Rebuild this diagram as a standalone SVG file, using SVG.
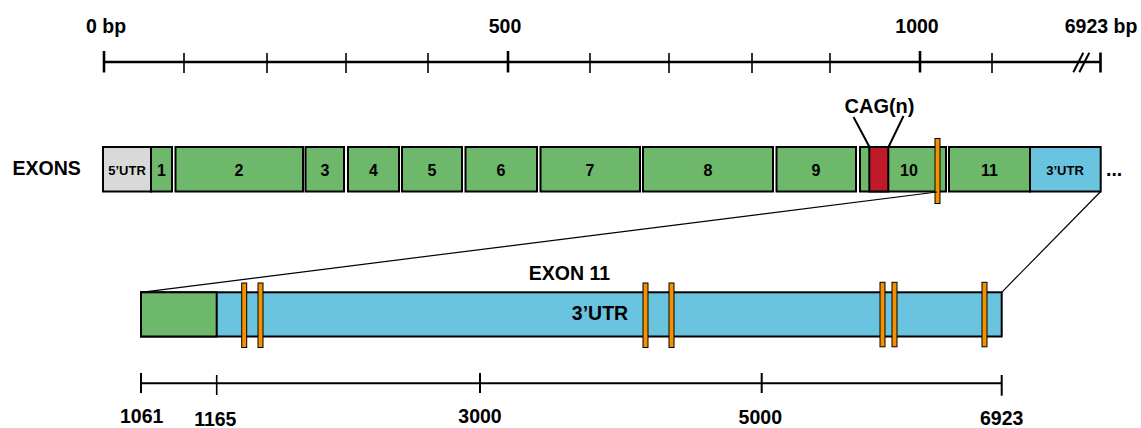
<svg xmlns="http://www.w3.org/2000/svg" width="1141" height="428" viewBox="0 0 1141 428">
<style>
text{font-family:"Liberation Sans",Arial,sans-serif;font-weight:bold;fill:#000}
.big{font-size:19.5px}
.num{font-size:16px;text-anchor:middle}
.utr{font-size:13px;text-anchor:middle}
.mid{text-anchor:middle}
.ex{stroke:#000;stroke-width:2}
.g{fill:#6db86b}
.b{fill:#6ac4e0}
.gray{fill:#d9d9d9}
.red{fill:#be1a28}
.or{fill:#f39200;stroke:#000;stroke-width:1}
.maj{stroke:#000;stroke-width:2.6}
.min{stroke:#000;stroke-width:1.6}
.conn{stroke:#000;stroke-width:1.2;fill:none}
</style>
<rect width="1141" height="428" fill="#fff"/>
<g id="top-ruler">
<line x1="104" y1="62" x2="1101" y2="62" stroke="#000" stroke-width="2.6"/>
<line class="maj" x1="104" y1="51" x2="104" y2="72.5"/>
<line class="maj" x1="508" y1="51" x2="508" y2="72.5"/>
<line class="maj" x1="920" y1="51" x2="920" y2="72.5"/>
<line class="maj" x1="1100.5" y1="52.5" x2="1100.5" y2="72.5"/>
<line class="min" x1="184" y1="53" x2="184" y2="73"/>
<line class="min" x1="267" y1="53" x2="267" y2="73"/>
<line class="min" x1="346" y1="53" x2="346" y2="73"/>
<line class="min" x1="428" y1="53" x2="428" y2="73"/>
<line class="min" x1="590" y1="53" x2="590" y2="73"/>
<line class="min" x1="669" y1="53" x2="669" y2="73"/>
<line class="min" x1="752" y1="53" x2="752" y2="73"/>
<line class="min" x1="830" y1="53" x2="830" y2="73"/>
<line class="min" x1="992" y1="53" x2="992" y2="73"/>
<line x1="1073.3" y1="72.3" x2="1083.3" y2="52.7" stroke="#000" stroke-width="2"/>
<line x1="1079.3" y1="72.3" x2="1089.3" y2="52.7" stroke="#000" stroke-width="2"/>
<text class="big mid" x="106" y="33">0 bp</text>
<text class="big mid" x="505" y="33">500</text>
<text class="big mid" x="917" y="33">1000</text>
<text class="big mid" x="1101" y="33">6923 bp</text>
</g>
<g id="exons-label"><text class="big" x="12.5" y="175">EXONS</text></g>
<g id="utr5"><rect class="ex gray" x="103" y="147" width="48" height="44.5"/><text class="utr" x="127" y="174.5">5’UTR</text></g>
<g id="exon1"><rect class="ex g" x="151" y="147" width="21" height="44.5"/><text class="num" x="161.5" y="175.5">1</text></g>
<g id="exon2"><rect class="ex g" x="175.5" y="147" width="127.5" height="44.5"/><text class="num" x="239" y="175.5">2</text></g>
<g id="exon3"><rect class="ex g" x="305.5" y="147" width="38.5" height="44.5"/><text class="num" x="325" y="175.5">3</text></g>
<g id="exon4"><rect class="ex g" x="348" y="147" width="51" height="44.5"/><text class="num" x="373.5" y="175.5">4</text></g>
<g id="exon5"><rect class="ex g" x="402" y="147" width="60" height="44.5"/><text class="num" x="432" y="175.5">5</text></g>
<g id="exon6"><rect class="ex g" x="465.5" y="147" width="71.5" height="44.5"/><text class="num" x="501" y="175.5">6</text></g>
<g id="exon7"><rect class="ex g" x="540.5" y="147" width="99.5" height="44.5"/><text class="num" x="590" y="175.5">7</text></g>
<g id="exon8"><rect class="ex g" x="643" y="147" width="130" height="44.5"/><text class="num" x="708" y="175.5">8</text></g>
<g id="exon9"><rect class="ex g" x="776.5" y="147" width="79.5" height="44.5"/><text class="num" x="816" y="175.5">9</text></g>
<g id="exon10"><rect class="ex g" x="860" y="147" width="86" height="44.5"/><rect class="ex red" x="869.3" y="147" width="19" height="44.5"/><text class="num" x="909" y="175.5">10</text></g>
<g id="exon11"><rect class="ex g" x="949" y="147" width="81" height="44.5"/><text class="num" x="989.5" y="175.5">11</text></g>
<g id="utr3"><rect class="ex b" x="1030" y="147" width="70.7" height="44.5"/><text class="utr" x="1065" y="175">3’UTR</text></g>
<g id="ellipsis"><text class="big" x="1106" y="176">...</text></g>
<g id="marker-top"><rect class="or" x="935" y="138.5" width="5" height="65"/></g>
<g id="cag-label"><text class="big" x="879.5" y="113" style="font-size:20px" text-anchor="middle">CAG(n)</text></g>
<g id="connectors">
<line x1="853.5" y1="117" x2="869.5" y2="147" stroke="#000" stroke-width="2"/>
<line x1="903.5" y1="116" x2="888.5" y2="147" stroke="#000" stroke-width="2"/>
<line class="conn" x1="141" y1="292.3" x2="937" y2="192"/>
<line class="conn" x1="1100.7" y1="191.5" x2="1001.7" y2="292.3"/>
</g>
<g id="exon11-detail">
<text class="big mid" x="569.5" y="280">EXON 11</text>
<rect class="ex b" x="141" y="292.3" width="860.7" height="44.2"/>
<rect class="ex g" x="141" y="292.3" width="75.7" height="44.2"/>
<text class="big mid" x="600" y="320">3’UTR</text>
<rect class="or" x="241.7" y="283" width="5" height="64.5"/>
<rect class="or" x="258" y="283" width="5" height="64.5"/>
<rect class="or" x="643" y="283" width="5" height="64.5"/>
<rect class="or" x="669" y="283" width="5" height="64.5"/>
<rect class="or" x="880" y="282.3" width="5" height="64.5"/>
<rect class="or" x="892" y="282.3" width="5" height="64.5"/>
<rect class="or" x="982" y="282.3" width="5" height="64.5"/>
</g>
<g id="bottom-ruler">
<line x1="141" y1="383.3" x2="1001.7" y2="383.3" stroke="#000" stroke-width="2"/>
<line class="min" x1="141" y1="373" x2="141" y2="393" style="stroke-width:2"/>
<line class="min" x1="216.7" y1="375" x2="216.7" y2="395"/>
<line class="min" x1="480" y1="373" x2="480" y2="393" style="stroke-width:2"/>
<line class="min" x1="761.7" y1="373" x2="761.7" y2="393" style="stroke-width:2"/>
<line class="min" x1="1001.7" y1="375" x2="1001.7" y2="395.7" style="stroke-width:2"/>
<text class="big mid" x="141.7" y="423.3">1061</text>
<text class="big mid" x="215.3" y="425.5">1165</text>
<text class="big mid" x="480" y="423.3">3000</text>
<text class="big mid" x="760.3" y="424">5000</text>
<text class="big mid" x="1001.7" y="424.5">6923</text>
</g>
</svg>
